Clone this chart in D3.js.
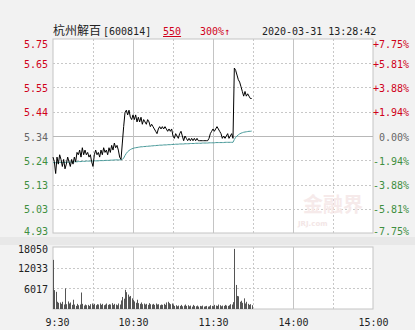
<!DOCTYPE html>
<html>
<head>
<meta charset="utf-8">
<title>杭州解百 分时图</title>
<script src="https://cdn.jsdelivr.net/npm/d3@7"></script>
<style>
  body { margin: 0; background: #f2f2f2; }
  svg { display: block; }
  .num { font-family: "DejaVu Sans Mono", monospace; font-size: 10px; }
</style>
</head>
<body>
<script>
// 昨收
const preClose = 5.34;

// 分时价格, 每分钟一个点 (9:30 起, 午休跳过)
const price = [
  5.25, 5.23, 5.18, 5.25, 5.22, 5.26, 5.24, 5.21, 5.24, 5.20,
  5.22, 5.25, 5.23, 5.21, 5.24, 5.22, 5.25, 5.23, 5.27, 5.26,
  5.28, 5.25, 5.29, 5.26, 5.28, 5.26, 5.27, 5.25, 5.26, 5.23,
  5.21, 5.26, 5.28, 5.26, 5.27, 5.25, 5.28, 5.26, 5.29, 5.27,
  5.28, 5.26, 5.29, 5.27, 5.30, 5.28, 5.31, 5.29, 5.30, 5.28,
  5.25, 5.24, 5.31, 5.38, 5.44, 5.45, 5.43, 5.45, 5.42, 5.41,
  5.43, 5.41, 5.43, 5.40, 5.42, 5.40, 5.42, 5.39, 5.41, 5.40,
  5.39, 5.41, 5.40, 5.38, 5.39, 5.38, 5.37, 5.36, 5.35, 5.37,
  5.38, 5.37, 5.38, 5.37, 5.38, 5.37, 5.36, 5.37, 5.36, 5.37,
  5.34, 5.33, 5.35, 5.34, 5.33, 5.35, 5.36, 5.34, 5.32, 5.34,
  5.33, 5.32, 5.33, 5.32, 5.33, 5.32, 5.33, 5.32, 5.33, 5.32,
  5.32, 5.32, 5.32, 5.32, 5.32, 5.32, 5.32, 5.33, 5.35, 5.36,
  5.37, 5.36, 5.37, 5.38, 5.37, 5.36, 5.35, 5.33, 5.34, 5.33,
  5.34, 5.35, 5.33, 5.34, 5.35, 5.33, 5.63, 5.62, 5.60, 5.58,
  5.57, 5.55, 5.53, 5.51, 5.53, 5.51, 5.52, 5.51, 5.50, 5.50
];

// 均价
const avgPrice = [
  5.226, 5.227, 5.226, 5.226, 5.227, 5.227, 5.228, 5.227, 5.227, 5.228,
  5.228, 5.228, 5.229, 5.229, 5.229, 5.229, 5.230, 5.230, 5.230, 5.231,
  5.231, 5.231, 5.232, 5.232, 5.232, 5.233, 5.233, 5.233, 5.233, 5.233,
  5.233, 5.234, 5.234, 5.234, 5.234, 5.235, 5.235, 5.235, 5.235, 5.236,
  5.236, 5.236, 5.236, 5.237, 5.237, 5.237, 5.238, 5.238, 5.238, 5.238,
  5.238, 5.238, 5.240, 5.246, 5.257, 5.266, 5.273, 5.278, 5.282, 5.285,
  5.287, 5.289, 5.290, 5.291, 5.292, 5.293, 5.294, 5.294, 5.295, 5.295,
  5.296, 5.296, 5.297, 5.297, 5.298, 5.298, 5.299, 5.299, 5.300, 5.300,
  5.301, 5.301, 5.301, 5.302, 5.302, 5.302, 5.303, 5.303, 5.303, 5.304,
  5.304, 5.304, 5.305, 5.305, 5.305, 5.306, 5.306, 5.306, 5.306, 5.307,
  5.307, 5.307, 5.307, 5.308, 5.308, 5.308, 5.308, 5.309, 5.309, 5.309,
  5.309, 5.309, 5.310, 5.310, 5.310, 5.310, 5.310, 5.311, 5.311, 5.311,
  5.311, 5.311, 5.312, 5.312, 5.312, 5.312, 5.312, 5.312, 5.312, 5.313,
  5.313, 5.313, 5.313, 5.313, 5.313, 5.313, 5.325, 5.334, 5.340, 5.345,
  5.349, 5.352, 5.354, 5.356, 5.357, 5.358, 5.359, 5.360, 5.360, 5.361
];

// 成交量 (手)
const volume = [
  14300, 5500, 5000, 2100, 1800, 1900, 1500, 2100, 1300, 6000,
  1400, 2200, 1600, 1900, 1200, 2700, 1300, 900, 1500, 1100,
  1300, 4800, 1500, 1000, 1300, 1100, 1200, 900, 1400, 1600,
  1200, 1500, 1100, 1400, 1300, 1600, 1200, 1500, 1100, 1300,
  1600, 1200, 1400, 1300, 1700, 1200, 1500, 1300, 1100, 1600,
  1300, 2500, 3500, 3000, 5600, 4900, 4200, 3600, 3800, 3100,
  2600, 2200, 1800, 2700, 1700, 1500, 1900, 1400, 1600, 1300,
  1500, 1200, 1700, 1400, 1300, 1500, 1200, 1600, 1300, 1400,
  1100, 1300, 1200, 1500, 1200, 1900, 2100, 1700, 1400, 1600,
  1300, 900, 1100, 800, 1000, 900, 1200, 800, 1000, 1300,
  900, 1100, 800, 1000, 700, 1200, 900, 800, 1000, 700,
  900, 800, 1000, 700, 800, 900, 700, 800, 1100, 900,
  800, 1200, 1000, 900, 1300, 1100, 800, 1000, 900, 1200,
  1000, 900, 1100, 1400, 1300, 2000, 17500, 7000, 3800, 3700,
  2100, 2400, 1800, 3100, 1600, 2100, 1500, 1200, 1400, 1100
];

// 刻度
const priceLabels = ["5.75", "5.65", "5.55", "5.44", "5.34", "5.24", "5.13", "5.03", "4.93"];
const pctTicks = [7.75, 5.81, 3.88, 1.94, 0, -1.94, -3.88, -5.81, -7.75];
const pctLabels = ["+7.75%", "+5.81%", "+3.88%", "+1.94%", "0.00%", "-1.94%", "-3.88%", "-5.81%", "-7.75%"];
const volTicks = [18050, 12033, 6017];
const timeTicks = [0, 60, 120, 180, 240];
const timeLabels = ["9:30", "10:30", "11:30", "14:00", "15:00"];
const gridMinutes = [30, 60, 90, 120, 150, 180, 210];

const w = 415, h = 330;
const left = 53, right = 373;
const mainTop = 39, mainBottom = 233;
const volTop = 247, volBottom = 309;

const upColor = "#d0021b", downColor = "#3f8f3f", flatColor = "#666";
function colorOf(v) { return v > 0 ? upColor : (v < 0 ? downColor : flatColor); }

const x = d3.scaleLinear().domain([0, 240]).range([left, right]);
const y = d3.scaleLinear().domain([-7.75, 7.75]).range([mainBottom, mainTop]);
const yv = d3.scaleLinear().domain([0, 18050]).range([volBottom, volTop]);
const pct = p => (p / preClose - 1) * 100;

const svg = d3.select("body").append("svg").attr("width", w).attr("height", h);

svg.append("rect").attr("width", w).attr("height", h).attr("fill", "#f2f2f2");
svg.append("rect").attr("x", 0).attr("y", 237).attr("width", w).attr("height", 8).attr("fill", "#e8e8e8");

// 画布
svg.append("rect").attr("x", left).attr("y", mainTop)
  .attr("width", right - left).attr("height", mainBottom - mainTop)
  .attr("fill", "#fff").attr("stroke", "#c4c4c4");
svg.append("rect").attr("x", left).attr("y", volTop)
  .attr("width", right - left).attr("height", volBottom - volTop)
  .attr("fill", "#fff").attr("stroke", "#c4c4c4");

// 横向网格
svg.append("g").selectAll("line").data(pctTicks.slice(1, -1)).enter().append("line")
  .attr("x1", left).attr("x2", right)
  .attr("y1", d => Math.round(y(d)) + 0.5).attr("y2", d => Math.round(y(d)) + 0.5)
  .attr("stroke", d => d === 0 ? "#b8b8b8" : "#c8c8c8")
  .attr("stroke-dasharray", d => d === 0 ? null : "2,2");

svg.append("g").selectAll("line").data(volTicks.slice(1)).enter().append("line")
  .attr("x1", left).attr("x2", right)
  .attr("y1", d => Math.round(yv(d)) + 0.5).attr("y2", d => Math.round(yv(d)) + 0.5)
  .attr("stroke", "#c8c8c8").attr("stroke-dasharray", "2,2");

// 竖向网格, 整点实线
[[mainTop, mainBottom], [volTop, volBottom]].forEach(function (r) {
  svg.append("g").selectAll("line").data(gridMinutes).enter().append("line")
    .attr("x1", d => Math.round(x(d)) + 0.5).attr("x2", d => Math.round(x(d)) + 0.5)
    .attr("y1", r[0]).attr("y2", r[1])
    .attr("stroke", d => d % 60 === 0 ? "#c4c4c4" : "#c8c8c8")
    .attr("stroke-dasharray", d => d % 60 === 0 ? null : "2,2");
});

// 水印
svg.append("text").attr("x", 333).attr("y", 212).attr("text-anchor", "middle")
  .attr("font-family", "Noto Sans CJK SC").attr("font-size", 20).attr("font-weight", "bold")
  .attr("fill", "#f6eaea").text("金融界");
svg.append("text").attr("x", 298).attr("y", 226)
  .attr("font-family", "DejaVu Sans").attr("font-size", 7).attr("font-weight", "bold")
  .attr("fill", "#f3e6e6").text("JRJ.com");

// 均价线
const avgLine = d3.line().x((d, i) => x(i)).y(d => y(pct(d)));
svg.append("path").datum(avgPrice).attr("d", avgLine)
  .attr("fill", "none").attr("stroke", "#4a9a9a").attr("stroke-width", 1);

// 价格线
const priceLine = d3.line().x((d, i) => x(i)).y(d => y(pct(d)));
svg.append("path").datum(price).attr("d", priceLine)
  .attr("fill", "none").attr("stroke", "#000").attr("stroke-width", 1);

// 成交量柱
svg.append("g").selectAll("rect").data(volume).enter().append("rect")
  .attr("x", (d, i) => Math.round(x(i)))
  .attr("y", d => yv(d))
  .attr("width", 1)
  .attr("height", d => volBottom - yv(d))
  .attr("fill", "#555");

// 左侧价格刻度
const yAxisL = d3.axisLeft(y).tickValues(pctTicks).tickSize(0)
  .tickFormat((d, i) => priceLabels[i]);
const gl = svg.append("g").attr("transform", "translate(51,0)").call(yAxisL);
gl.select(".domain").remove();
gl.selectAll("text").attr("class", "num").attr("font-family", null).attr("font-size", null)
  .attr("fill", d => colorOf(d))
  .attr("dy", (d, i) => i === 0 ? "0.82em" : (i === pctTicks.length - 1 ? "0.15em" : "0.42em"));

// 右侧涨跌幅刻度
const yAxisR = d3.axisRight(y).tickValues(pctTicks).tickSize(0)
  .tickFormat((d, i) => pctLabels[i]);
const gr = svg.append("g").attr("transform", "translate(409,0)").call(yAxisR);
gr.select(".domain").remove();
gr.selectAll("text").attr("class", "num").attr("font-family", null).attr("font-size", null)
  .attr("x", 0).attr("text-anchor", "end")
  .attr("fill", d => colorOf(d))
  .attr("dy", (d, i) => i === 0 ? "0.82em" : (i === pctTicks.length - 1 ? "0.15em" : "0.42em"));

// 成交量刻度
const vAxis = d3.axisLeft(yv).tickValues(volTicks).tickSize(0).tickFormat(d3.format("d"));
const gv = svg.append("g").attr("transform", "translate(51,0)").call(vAxis);
gv.select(".domain").remove();
gv.selectAll("text").attr("class", "num").attr("font-family", null).attr("font-size", null)
  .attr("fill", "#222")
  .attr("dy", (d, i) => i === 0 ? "0.55em" : "0.42em");

// 时间轴
const xAxis = d3.axisBottom(x).tickValues(timeTicks).tickSize(0)
  .tickFormat((d, i) => timeLabels[i]);
const gx = svg.append("g").attr("transform", "translate(0," + volBottom + ")").call(xAxis);
gx.select(".domain").remove();
gx.selectAll("text").attr("class", "num").attr("font-family", null).attr("font-size", null)
  .attr("fill", "#222").attr("y", 10).attr("dy", "0.71em");
gx.selectAll("text").filter((d, i) => i === 0).attr("dx", 4);

// 标题
const head = svg.append("text").attr("x", left).attr("y", 35).attr("class", "num").attr("fill", "#222");
head.append("tspan").attr("font-family", "Noto Sans CJK SC").attr("font-size", 12).text("杭州解百");
head.append("tspan").attr("dx", 2).text("[600814]");
svg.append("text").attr("x", 163).attr("y", 35).attr("class", "num").attr("fill", upColor)
  .attr("text-decoration", "underline").text("550");
svg.append("text").attr("x", 200).attr("y", 35).attr("class", "num").attr("fill", upColor)
  .text("300%↑");
svg.append("text").attr("x", 262).attr("y", 35).attr("class", "num").attr("fill", "#222")
  .text("2020-03-31 13:28:42");
</script>
</body>
</html>
